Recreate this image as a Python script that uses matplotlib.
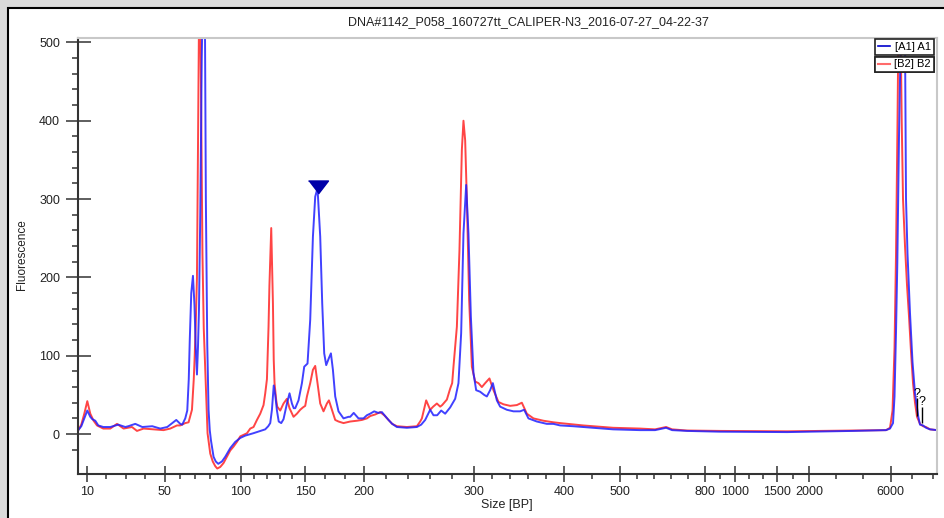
import numpy as np
import matplotlib.pyplot as plt
from matplotlib.lines import Line2D
from matplotlib.patches import Rectangle

plt.rcParams['font.family'] = ['Liberation Sans', 'DejaVu Sans']

title = "DNA#1142_P058_160727tt_CALIPER-N3_2016-07-27_04-22-37"

# ladder calibration (size in bp -> scan number)
ladder_bp = [10, 50, 100, 150, 200, 300, 400, 500, 800, 1000, 1500, 2000, 6000]
ladder_scan = [86.7, 164.3, 240.7, 305, 364, 473.7, 564.3, 620.3, 704.7, 734.7, 777.3, 809, 890.7]
minor_div = [4, 5, 5, 3, 5, 5, 2, 5, 2, 3, 2, 3]

# sample A1 (blue)
a1_scan = [78, 81, 84, 87, 90, 92, 95, 98, 103, 110, 118, 125, 128, 135, 142, 152, 160, 167,
           172, 176, 180, 182, 185, 187, 188.5, 189.5, 191, 192.7, 194.2, 195.5, 196.7, 197.7,
           198.7, 200, 201.5, 203.3, 204.8, 205.6, 206.3, 207, 208.3, 209.5, 210.7, 213.3,
           215.5, 218, 221.7, 225, 230, 235, 240, 245, 253, 260, 265, 268, 270, 271.7, 273.5,
           275, 276.7, 278.5, 281, 283.3, 286.7, 289.3, 291.7, 293.5, 295, 298.3, 301.7, 304,
           307.3, 310, 312.7, 315, 317.3, 320, 322, 324, 326, 328.7, 330.7, 332.7, 335, 338.3,
           343.3, 348.3, 350, 353.5, 358.3, 363.3, 366.7, 370, 374, 378, 381.7, 385, 388.3, 392,
           396.7, 406.7, 416.7, 421, 425, 430, 433.3, 437, 441, 445, 450, 455, 458.3, 461, 463.3,
           466, 468.3, 470.7, 473.3, 476, 480, 484, 486.7, 490, 492.7, 496.7, 500, 506.7, 513.3,
           520, 524, 528.3, 536.7, 546.7, 553.3, 560, 573, 593, 613, 640, 655, 666, 672, 687,
           720, 787, 853, 886, 890, 893, 894.5, 896, 897.3, 899, 900.7, 903, 905, 906, 907.5,
           910, 912.5, 915, 918.3, 920, 923, 926, 930, 937]
a1_rfu = [5, 10, 20, 30, 22, 19, 17, 11, 9, 9, 12, 9, 10, 13, 9, 10, 7, 9,
          14, 18, 13, 12, 20, 30, 70, 120, 180, 202, 165, 110, 76, 110,
          158, 280, 480, 620, 500, 300, 200, 115, 31, 5, -8, -29,
          -35, -38, -35, -29, -18, -10, -5, -2, 1, 4, 6, 10, 14, 31, 62,
          50, 30, 16, 14, 19, 39, 52, 39, 33, 33, 43, 65, 86,
          90, 146, 252, 303, 314, 252, 167, 103, 88, 97, 103, 82, 48, 29,
          20, 22, 22, 27, 20, 20, 24, 26, 29, 27, 28, 23, 18, 13,
          9, 8, 9, 12, 18, 31, 24, 24, 30, 26, 34, 45, 65, 129, 256,
          318, 256, 150, 78, 56, 54, 50, 48, 56, 65, 43, 35, 31, 29,
          29, 31, 20, 16, 13, 13, 11, 10, 8, 6, 5, 5, 8, 5, 4,
          3, 2.5, 4, 5, 7, 14, 48, 130, 218, 380, 506, 620, 506, 300, 230,
          154, 92, 52, 22, 12, 11, 8, 6, 5]

# sample B2 (red)
b2_scan = [78, 81, 84, 87, 90, 93.3, 96.7, 103, 110, 116.7, 123.3, 131.7, 136.7, 143.3, 153.3,
           163.3, 170, 176.7, 180, 185, 188.3, 191.7, 193.5, 194.3, 195.5, 196.7, 198, 199.2,
           200.3, 201, 202.2, 203.5, 205, 206.2, 207.3, 210, 212.5, 215, 217, 220, 223.3, 230,
           233.3, 236.7, 240, 243.3, 246.7, 250, 253.3, 256.7, 260, 263.3, 265, 266.7, 268.3,
           269.2, 271, 272.7, 273.5, 274.3, 276, 277, 280, 283.3, 286.7, 289.3, 293.3, 296.7,
           300, 302.7, 305, 306.7, 310, 312.7, 315, 317.3, 320, 322, 323.3, 326.7, 328.7, 331.7,
           335, 338.3, 343.3, 350, 356.7, 361.7, 366.7, 370, 375, 380, 384, 388.3, 392, 396.7,
           406.7, 416.7, 420, 421.7, 424, 426, 428, 430, 433, 436.7, 440, 442, 446.7, 450, 452,
           453.3, 456.7, 459.3, 461.7, 463.3, 465, 466.7, 469, 471.7, 475, 478.3, 481.7, 485,
           489.3, 493.3, 498.3, 503.3, 510, 516.7, 521.7, 526.7, 533.3, 543.3, 553.3, 560, 583,
           613, 640, 655, 666, 672, 687, 720, 787, 853, 886, 890, 892.5, 894.5, 896, 897.5,
           898.3, 899.5, 900.7, 901.7, 903, 905, 907, 909, 911, 913, 915, 917, 920, 923, 926,
           930, 937]
b2_rfu = [5, 12, 26, 42, 26, 17, 11, 7, 7, 13, 7, 9, 4, 7, 6,
          5, 7, 11, 11, 14, 15, 31, 70, 95, 140, 200, 420, 600,
          506, 400, 230, 135, 82, 40, 1, -25, -35, -41, -44, -42, -37, -21,
          -16, -10, -3, -1, 1, 7, 9, 18, 26, 37, 52, 70, 137,
          190, 263, 167, 95, 65, 43, 35, 30, 39, 45, 33, 22, 26,
          31, 34, 36, 48, 65, 82, 87, 65, 39, 33, 29, 39, 43, 31,
          18, 16, 14, 16, 17, 18, 20, 23, 25, 28, 24, 18, 13, 10,
          9, 10, 16, 20, 32, 43, 37, 31, 35, 39, 35, 37, 44, 58, 65,
          86, 137, 235, 363, 400, 375, 299, 171, 86, 67, 65, 60, 65,
          71, 56, 41, 38, 36, 37, 40, 26, 20, 17, 15, 14, 11,
          8, 7, 6, 9, 6, 4.5, 4, 3.5, 4.5, 5, 8, 30, 110, 230, 400,
          506, 620, 506, 400, 300, 240, 190, 150, 105, 65, 40, 22, 13, 10, 9,
          6, 5]

# called peak (marker) and unsized peaks
peak_scan, peak_rfu = 317.3, 314
unknown_scan = [917, 922.3]
unknown_rfu = [23, 14]
unknown_top = [46, 35]

W, H = 945, 518
fig = plt.figure(figsize=(W / 100, H / 100), dpi=100, facecolor='#dadada')
fig.add_artist(Rectangle((8 / W, -0.1), 1.2, 1.1 - 8 / H, transform=fig.transFigure,
                         facecolor='white', edgecolor='black', lw=1.5, zorder=-10))

ax = fig.add_axes([78 / W, 1 - 474 / H, (936.7 - 78) / W, (474 - 37.7) / H])

ax.plot(b2_scan, b2_rfu, color='#ff2424', lw=1.4, alpha=0.85)
ax.plot(a1_scan, a1_rfu, color='#2020ff', lw=1.4, alpha=0.85)

tri = [(-1, 0.65), (1, 0.65), (0, -0.65)]
ax.plot(peak_scan, peak_rfu + 1, marker=tri, ms=14.4, color='#0000a8', ls='none')

ax.vlines(unknown_scan, unknown_rfu, unknown_top, color='black', lw=1)
for xs, yt in zip(unknown_scan, unknown_top):
    ax.text(xs, yt - 2, '?', ha='center', va='bottom', fontsize=9, color='black')

ax.set_xlim(77.7, 936.7)
ax.set_ylim(-51, 506)

ax.set_xticks(ladder_scan)
ax.set_xticklabels([str(b) for b in ladder_bp])
minors = []
for i, n in enumerate(minor_div):
    step = (ladder_scan[i + 1] - ladder_scan[i]) / n
    minors += [ladder_scan[i] + k * step for k in range(1, n)]
minors += [ladder_scan[-1] + 21, ladder_scan[-1] + 42.5]
ax.set_xticks(minors, minor=True)

ax.set_yticks(range(0, 501, 100))
ax.set_yticks(range(-20, 501, 20), minor=True)

ax.tick_params(axis='y', which='major', direction='inout', length=18, width=1.1,
               color='#333333', labelsize=9, labelcolor='#222222', pad=4)
ax.tick_params(axis='y', which='minor', direction='out', length=4.3, width=1.1, color='#333333')
ax.tick_params(axis='x', which='major', direction='inout', length=11.5, width=1.1,
               color='#333333', labelsize=9, labelcolor='#222222', pad=3)
ax.tick_params(axis='x', which='minor', direction='out', length=3.5, width=1.1, color='#333333')

for s in ['left', 'bottom']:
    ax.spines[s].set_color('#333333')
    ax.spines[s].set_linewidth(1.5)
for s in ['top', 'right']:
    ax.spines[s].set_color('#c8c8c8')
    ax.spines[s].set_linewidth(1.5)

fig.text(528 / W, 1 - 22 / H, title, ha='center', va='center', fontsize=9, color='#222222')
fig.text(22 / W, 1 - 255 / H, 'Fluorescence', rotation=90, ha='center', va='center',
         fontsize=8.5, color='#222222')
fig.text(507 / W, 1 - 505 / H, 'Size [BP]', ha='center', va='center', fontsize=9, color='#222222')

ax_w, ax_h = 936.7 - 78, 474 - 37.7
h1 = Line2D([], [], color='#0000cc', lw=1.2)
h2 = Line2D([], [], color='#ff6b6b', lw=1.5)
for h, lab, top in [(h1, '[A1] A1', 1.6), (h2, '[B2] B2', 19.0)]:
    leg = ax.legend([h], [lab], loc='upper right', bbox_to_anchor=(1 - 3 / ax_w, 1 - top / ax_h),
                    borderaxespad=0, fontsize=8, frameon=True, fancybox=False, framealpha=1,
                    edgecolor='#222222', handlelength=1.1, handletextpad=0.4, borderpad=0.25)
    leg.get_frame().set_linewidth(1.2)
    ax.add_artist(leg)

fig.savefig('out.png', dpi=100, facecolor=fig.get_facecolor())
